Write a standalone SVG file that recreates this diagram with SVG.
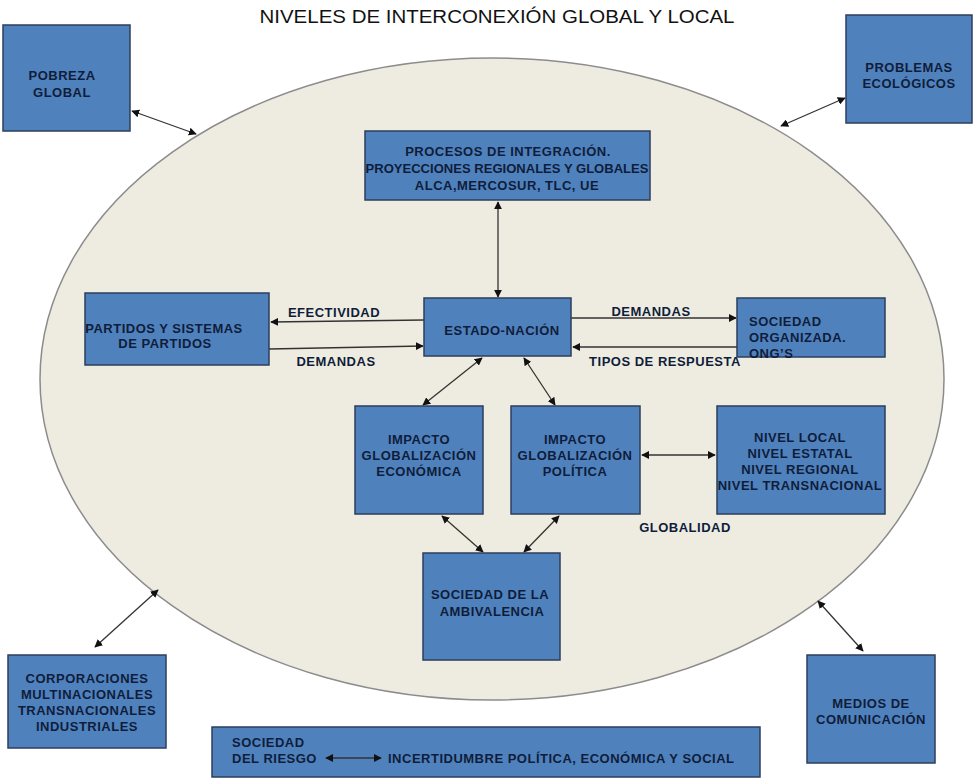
<svg xmlns="http://www.w3.org/2000/svg" width="973" height="780" viewBox="0 0 973 780">
<defs>
<marker id="ah" viewBox="0 0 10 10" refX="9" refY="5" markerWidth="8" markerHeight="8" markerUnits="userSpaceOnUse" orient="auto-start-reverse">
<path d="M0,0 L10,5 L0,10 z" fill="#111"/>
</marker>
<style>
.box{fill:#4f81bd;stroke:#2c3e5c;stroke-width:1.5}
.t{font-family:"Liberation Sans",Arial,sans-serif;font-weight:bold;font-size:13px;letter-spacing:0.5px;fill:#0f1d3a;text-anchor:middle}
.l{text-anchor:start}
.c{fill:none;stroke:#333;stroke-width:1.3}
.a2{marker-start:url(#ah);marker-end:url(#ah)}
.a1{marker-end:url(#ah)}
</style>
</defs>
<rect width="973" height="780" fill="#ffffff"/>
<text x="497" y="23" font-family="'Liberation Sans',Arial,sans-serif" font-size="18" fill="#111" text-anchor="middle" textLength="475" lengthAdjust="spacingAndGlyphs">NIVELES DE INTERCONEXIÓN GLOBAL Y  LOCAL</text>
<ellipse cx="492" cy="379" rx="452" ry="321" fill="#eeece1" stroke="#8c8c8c" stroke-width="1.5"/>

<g id="connectors">
<line class="c a2" x1="132" y1="111" x2="196" y2="134"/>
<line class="c a2" x1="781" y1="126" x2="845" y2="98"/>
<line class="c a2" x1="498" y1="202" x2="498" y2="297"/>
<line class="c a1" x1="424" y1="320" x2="271" y2="322"/>
<line class="c a1" x1="269" y1="349" x2="423" y2="346"/>
<line class="c a1" x1="571" y1="318" x2="736" y2="318"/>
<line class="c a1" x1="737" y1="347" x2="573" y2="347"/>
<line class="c a2" x1="482" y1="358" x2="423" y2="405"/>
<line class="c a2" x1="524" y1="358" x2="555" y2="405"/>
<line class="c a2" x1="642" y1="455" x2="715" y2="455"/>
<line class="c a2" x1="442" y1="516" x2="483" y2="552"/>
<line class="c a2" x1="559" y1="516" x2="524" y2="552"/>
<line class="c a2" x1="158" y1="590" x2="95" y2="647"/>
<line class="c a2" x1="818" y1="601" x2="863" y2="651"/>
</g>

<g id="lbl-efectividad"><text class="t" x="334" y="317">EFECTIVIDAD</text></g>
<g id="lbl-demandas1"><text class="t" x="336" y="366">DEMANDAS</text></g>
<g id="lbl-demandas2"><text class="t" x="651" y="316">DEMANDAS</text></g>
<g id="lbl-tipos"><text class="t" x="665" y="366">TIPOS DE RESPUESTA</text></g>
<g id="lbl-globalidad"><text class="t" x="685" y="532">GLOBALIDAD</text></g>

<g id="pobreza">
<rect class="box" x="3" y="25" width="127" height="106"/>
<text class="t" x="62" y="80">POBREZA</text>
<text class="t" x="62" y="97">GLOBAL</text>
</g>
<g id="problemas">
<rect class="box" x="846" y="15" width="126" height="108"/>
<text class="t" x="909" y="72">PROBLEMAS</text>
<text class="t" x="909" y="88">ECOLÓGICOS</text>
</g>
<g id="procesos">
<rect class="box" x="365" y="131" width="285" height="69"/>
<text class="t" x="508" y="156">PROCESOS DE INTEGRACIÓN.</text>
<text class="t" x="507" y="173" textLength="283" lengthAdjust="spacingAndGlyphs" style="letter-spacing:0">PROYECCIONES REGIONALES Y GLOBALES</text>
<text class="t" x="507" y="190">ALCA,MERCOSUR, TLC, UE</text>
</g>
<g id="partidos">
<rect class="box" x="85" y="293" width="184" height="72"/>
<text class="t" x="164" y="333">PARTIDOS Y SISTEMAS</text>
<text class="t" x="165" y="348">DE PARTIDOS</text>
</g>
<g id="estado">
<rect class="box" x="424" y="298" width="147" height="58"/>
<text class="t" x="502" y="335">ESTADO-NACIÓN</text>
</g>
<g id="sociedad-organizada">
<rect class="box" x="737" y="298" width="148" height="59"/>
<text class="t l" x="749" y="326">SOCIEDAD</text>
<text class="t l" x="749" y="342">ORGANIZADA.</text>
<text class="t l" x="749" y="358">ONG’S</text>
</g>
<g id="impacto-economica">
<rect class="box" x="355" y="406" width="128" height="108"/>
<text class="t" x="419" y="444">IMPACTO</text>
<text class="t" x="419" y="460">GLOBALIZACIÓN</text>
<text class="t" x="419" y="476">ECONÓMICA</text>
</g>
<g id="impacto-politica">
<rect class="box" x="511" y="406" width="129" height="108"/>
<text class="t" x="575" y="444">IMPACTO</text>
<text class="t" x="575" y="460">GLOBALIZACIÓN</text>
<text class="t" x="575" y="476">POLÍTICA</text>
</g>
<g id="niveles">
<rect class="box" x="717" y="406" width="168" height="108"/>
<text class="t" x="800" y="442">NIVEL LOCAL</text>
<text class="t" x="800" y="458">NIVEL ESTATAL</text>
<text class="t" x="800" y="474">NIVEL REGIONAL</text>
<text class="t" x="800" y="490">NIVEL TRANSNACIONAL</text>
</g>
<g id="ambivalencia">
<rect class="box" x="423" y="553" width="137" height="107"/>
<text class="t" x="490" y="599">SOCIEDAD DE LA</text>
<text class="t" x="492" y="616">AMBIVALENCIA</text>
</g>
<g id="corporaciones">
<rect class="box" x="8" y="655" width="158" height="93"/>
<text class="t" x="87" y="683">CORPORACIONES</text>
<text class="t" x="87" y="699">MULTINACIONALES</text>
<text class="t" x="87" y="715">TRANSNACIONALES</text>
<text class="t" x="87" y="731">INDUSTRIALES</text>
</g>
<g id="medios">
<rect class="box" x="807" y="655" width="128" height="108"/>
<text class="t" x="871" y="708">MEDIOS DE</text>
<text class="t" x="871" y="724">COMUNICACIÓN</text>
</g>
<g id="riesgo">
<rect class="box" x="212" y="727" width="548" height="50"/>
<text class="t l" x="232" y="747">SOCIEDAD</text>
<text class="t l" x="232" y="763">DEL RIESGO</text>
<text class="t l" x="388" y="763">INCERTIDUMBRE POLÍTICA, ECONÓMICA Y SOCIAL</text>
<line class="c a2" x1="326" y1="758" x2="381" y2="758"/>
</g>
</svg>
